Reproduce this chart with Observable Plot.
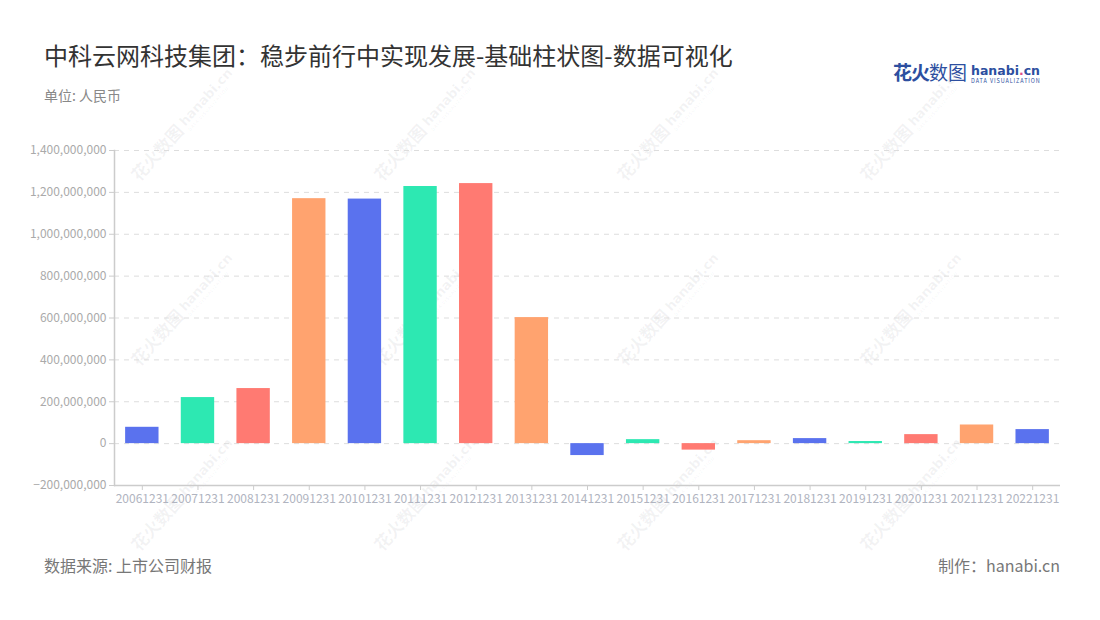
<!DOCTYPE html>
<html><head><meta charset="utf-8">
<script src="https://cdn.jsdelivr.net/npm/d3@7"></script>
<script src="https://cdn.jsdelivr.net/npm/@observablehq/plot@0.6"></script>
<style>
body{margin:0;background:#fff;font-family:"Noto Sans CJK SC","Noto Sans",sans-serif;}
#wrap{position:relative;width:1100px;height:620px;overflow:hidden;background:#fff;}
.abs{position:absolute;white-space:nowrap;}
#title{left:44px;top:37px;font-size:24px;color:#333;}
#sub{left:44px;top:85px;font-size:14px;color:#888;}
#src{left:44px;top:553px;font-size:16px;color:#777;}
#made{right:40px;top:553px;font-size:16px;color:#777;}
#logo{left:893px;top:58px;}
#chart{left:0;top:130px;}
#chart svg text{font-family:"Noto Sans CJK SC","Noto Sans",sans-serif;}
.stack{display:inline-block;vertical-align:top;line-height:1;font-size:5px;}
.wm{position:absolute;transform:translate(-50%,-50%) rotate(-48deg);color:rgba(120,120,130,0.09);white-space:nowrap;line-height:1;}
.wm b{font-size:17px;}
</style></head>
<body><div id="wrap">
<div id="wms"></div>
<div id="title" class="abs">中科云网科技集团：稳步前行中实现发展-基础柱状图-数据可视化</div>
<div id="sub" class="abs">单位: 人民币</div>
<div id="logo" class="abs"><span style="font-size:19px;font-weight:bold;color:#2d4fa0;letter-spacing:-1px">花火</span><span style="font-size:19px;color:#2d4fa0;">数图</span><span class="stack" style="margin-left:4px;margin-top:7px;"><span style="font-size:12.5px;font-weight:bold;color:#2d4fa0;font-family:'DejaVu Sans'">hanabi<span style="color:#e0508a">.</span>cn</span><br><span style="font-size:5.5px;color:#2d4fa0;letter-spacing:0.9px;">DATA VISUALIZATION</span></span></div>
<div id="chart" class="abs"></div>
<div id="src" class="abs">数据来源: 上市公司财报</div>
<div id="made" class="abs">制作：hanabi.cn</div>
</div>
<script>
const dates = ["20061231","20071231","20081231","20091231","20101231","20111231","20121231","20131231","20141231","20151231","20161231","20171231","20181231","20191231","20201231","20211231","20221231"];
const values = [78e6, 220e6, 263e6, 1170e6, 1168e6, 1228e6, 1242e6, 602e6, -57e6, 19e6, -31e6, 14e6, 24e6, 10e6, 43e6, 89e6, 67e6];
const palette = ["#5A72EE", "#2DE8B2", "#FF7A72", "#FFA36F"];
const yTicks = [-200e6, 0, 200e6, 400e6, 600e6, 800e6, 1000e6, 1200e6, 1400e6];

// watermarks
const wmCols = [183, 426, 669, 912];
const wmRows = [125, 310, 495];
const wms = document.getElementById("wms");
for (const y of wmRows) for (const x of wmCols) {
  const el = document.createElement("div");
  el.className = "wm";
  el.style.left = x + "px"; el.style.top = y + "px";
  el.innerHTML = '<b>花火数图</b><span class="stack" style="margin-left:4px;margin-top:2px"><span style="font-size:13px;font-weight:bold;font-family:\'DejaVu Sans\'">hanabi.cn</span><br><span style="font-size:4.5px;letter-spacing:0.8px">DATA VISUALIZATION</span></span>';
  wms.appendChild(el);
}

const data = dates.map((d, i) => ({date: d, value: values[i], color: palette[i % palette.length]}));
const fmt = d3.format(",");

const plot = Plot.plot({
  width: 1100,
  height: 385,
  marginLeft: 114,
  marginRight: 40,
  marginTop: 20,
  marginBottom: 30,
  style: {fontSize: "12px", color: "#aaa", background: "transparent"},
  x: {domain: dates, paddingInner: 0.4, paddingOuter: 0.2, round: false, label: null},
  y: {domain: [-200e6, 1400e6], label: null},
  marks: [
    Plot.gridY(yTicks.filter(t => t > -200e6), {stroke: "#ddd", strokeOpacity: 1, strokeDasharray: "5,5"}),
    Plot.barY(data, {x: "date", y: "value", fill: "color"}),
    Plot.frame({anchor: "left", stroke: "#ccc", strokeWidth: 1.5}),
    Plot.ruleY([-200e6], {stroke: "#ccc", strokeWidth: 1.5}),
    Plot.axisY(yTicks, {tickFormat: fmt, tickSize: 5, stroke: "#ccc", fill: "#aaa", fontSize: 12, tickPadding: 3}),
    Plot.axisX({tickSize: 5, stroke: "#ccc", fill: "#b0b4c0", fontSize: 12, tickPadding: 4})
  ]
});
document.getElementById("chart").appendChild(plot);
</script>
</body></html>
